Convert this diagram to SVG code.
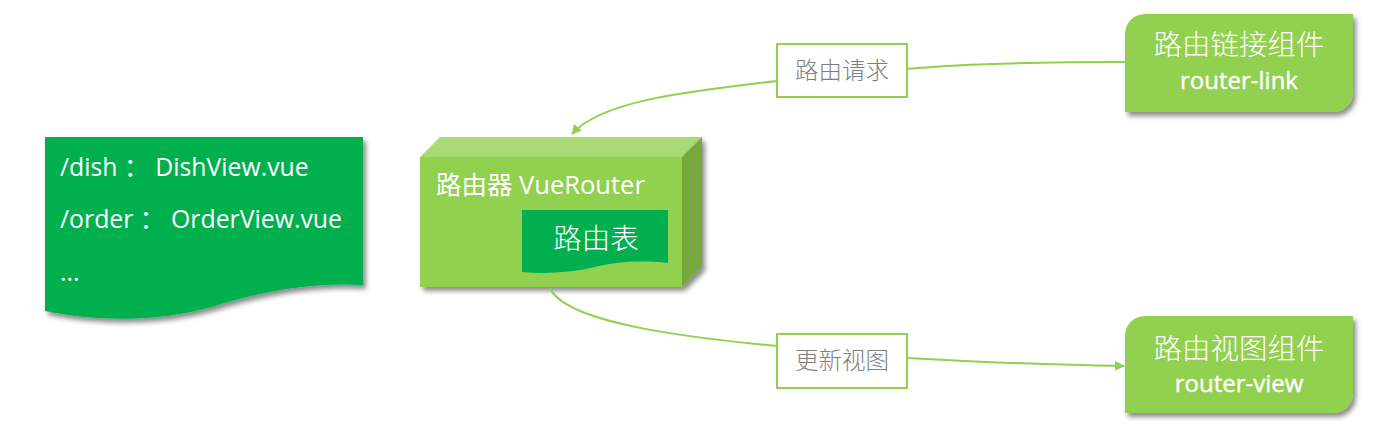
<svg xmlns="http://www.w3.org/2000/svg" width="1395" height="424" viewBox="0 0 1395 424">
<defs>
<filter id="sh" x="-10%" y="-10%" width="130%" height="140%">
<feDropShadow dx="3" dy="4" stdDeviation="2.5" flood-color="#000" flood-opacity="0.45"/>
</filter>
<marker id="arr" viewBox="0 0 10 10" refX="9" refY="5" markerWidth="5" markerHeight="5" orient="auto" markerUnits="strokeWidth">
<path d="M0,0 L10,5 L0,10 Z" fill="#92D050"/>
</marker>
<style>
.t{font-family:"Open Sans","Noto Sans CJK SC",sans-serif;fill:#fff}
.cn{font-family:"Noto Sans CJK SC",sans-serif;fill:#fff;font-weight:300}
.en{font-family:"Open Sans",sans-serif;fill:#fff;font-weight:500;stroke:#fff;stroke-width:0.4}
.lbl{font-family:"Noto Sans CJK SC",sans-serif;fill:#7F7F7F;font-size:23.5px;font-weight:300}
.conn{fill:none;stroke:#92D050;stroke-width:2}
.box{fill:#fff;stroke:#92D050;stroke-width:2}
</style>
</defs>
<g id="routes">
<path d="M45,137 H363 V285 C 310,282 260,292 215,306 C 160,322 100,322 45,311 Z" fill="#00B050" filter="url(#sh)"/>
<text class="t" x="60" y="176" font-size="24.8">/dish ：  DishView.vue</text>
<text class="t" x="60" y="228" font-size="24.8">/order ：  OrderView.vue</text>
<text class="t" x="60" y="281" font-size="24.8">...</text>
</g>
<g id="router">
<g filter="url(#sh)">
<polygon points="420,157 440,137 702,137 682,157" fill="#A9DA74"/>
<polygon points="682,157 702,137 702,267 682,287" fill="#76A83C"/>
<rect x="420" y="157" width="262" height="130" fill="#92D050"/>
</g>
<text class="t" x="436" y="194" font-size="25.5">路由器 VueRouter</text>
<path d="M522,210 H668 V263 C 640,260 615,262 595,267 C 570,273 545,274 522,272 Z" fill="#00B050"/>
<text class="cn" x="596" y="249" font-size="28.5" text-anchor="middle">路由表</text>
</g>
<g id="link">
<path d="M1145,14 H1353 V92 A20,20 0 0 1 1333,112 H1125 V34 A20,20 0 0 1 1145,14 Z" fill="#92D050" filter="url(#sh)"/>
<text class="cn" x="1239" y="55" font-size="28.5" text-anchor="middle">路由链接组件</text>
<text class="en" x="1239" y="89" font-size="24" text-anchor="middle">router-link</text>
</g>
<g id="view">
<path d="M1145,316 H1353 V393 A20,20 0 0 1 1333,413 H1125 V336 A20,20 0 0 1 1145,316 Z" fill="#92D050" filter="url(#sh)"/>
<text class="cn" x="1239" y="359" font-size="28.5" text-anchor="middle">路由视图组件</text>
<text class="en" x="1239" y="392" font-size="24" text-anchor="middle">router-view</text>
</g>
<g id="connectors">
<path class="conn" d="M1125,62 C 1040,62 960,64 907,69"/>
<path class="conn" d="M777,81 C 680,92 600,102 572,134" marker-end="url(#arr)"/>
<path class="conn" d="M550,288 C 565,322 680,337 777,346"/>
<path class="conn" d="M907,358 C 980,362 1050,365 1124,366" marker-end="url(#arr)"/>
</g>
<g id="label-request">
<rect class="box" x="777" y="44" width="130" height="53"/>
<text class="lbl" x="842" y="79" text-anchor="middle">路由请求</text>
</g>
<g id="label-update">
<rect class="box" x="777" y="334" width="130" height="54"/>
<text class="lbl" x="842" y="369" text-anchor="middle">更新视图</text>
</g>
</svg>
